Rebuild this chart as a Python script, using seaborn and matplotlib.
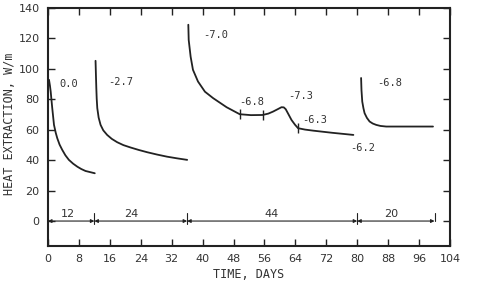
import matplotlib
matplotlib.use("Agg")
import matplotlib.pyplot as plt
import seaborn as sns
import pandas as pd

# ---- data ----
seg1_days = [0.26, 0.5, 0.7, 0.9, 1.1, 1.55, 2.0, 2.4, 3.0, 3.7, 4.5, 5.4, 6.5, 7.6, 8.6, 9.7, 12.1]
seg1_vals = [92.8, 89.0, 85.0, 79.5, 74.2, 63.2, 58.0, 54.4, 50.2, 46.7, 43.2, 40.2, 37.7, 35.7, 34.2, 32.9, 31.4]

seg2_days = [12.3, 12.4, 12.5, 12.6, 12.75, 13.1, 13.6, 14.3, 15.3, 16.5, 17.9, 19.5, 21.4, 23.5, 25.7, 28.2, 30.8, 33.4, 36.0]
seg2_vals = [105.3, 96.0, 87.4, 80.5, 74.2, 68.0, 63.2, 59.6, 56.6, 54.0, 51.8, 49.9, 48.3, 46.7, 45.2, 43.7, 42.3, 41.2, 40.2]

seg3_days = [36.3, 36.4, 36.9, 37.5, 38.8, 40.6, 42.7, 46.2, 49.6, 52.5, 55.5, 57.0,
             58.2, 59.5, 60.4, 61.0, 61.5, 62.2, 63.0, 63.9, 64.7, 66.5, 68.6, 73.5, 79.0]
seg3_vals = [129.0, 119.0, 108.0, 99.4, 91.7, 85.0, 80.8, 74.8, 70.2, 69.6, 69.7, 70.6,
             71.9, 73.6, 74.8, 74.7, 73.5, 70.2, 66.4, 63.3, 61.0, 60.1, 59.4, 58.0, 56.6]

seg4_days = [81.0, 81.1, 81.3, 81.6, 81.9, 82.5, 83.2, 84.0, 84.9, 86.0, 87.5, 99.6]
seg4_vals = [94.0, 86.0, 78.5, 74.2, 70.9, 67.8, 65.4, 64.1, 63.2, 62.5, 62.1, 62.1]

mark_days = [49.6, 55.5, 64.7]
mark_vals = [70.2, 69.7, 61.0]

temp_labels = ["0.0", "-2.7", "-7.0", "-6.8", "-7.3", "-6.3", "-6.2", "-6.8"]
temp_x = [5.3, 18.7, 43.4, 52.6, 65.5, 69.0, 81.3, 88.3]
temp_y = [90, 91.5, 122, 78.5, 82, 66.4, 48, 90.8]

boundaries = [0, 12, 36, 80, 100]
dur_labels = ["12", "24", "44", "20"]
dur_x = [5.2, 21.6, 57.9, 88.9]

x_ticks = list(range(0, 105, 8))
y_ticks = list(range(0, 141, 20))

# ---- plot ----
sns.set_style("ticks")
plt.rcParams["font.family"] = ["Liberation Sans Narrow", "DejaVu Sans"]

fig = plt.figure(figsize=(4.86, 2.82), dpi=100)
ax = fig.add_axes([48 / 486, 1 - 246 / 282, (450 - 48) / 486, (246 - 8) / 282])

for d, v in [(seg1_days, seg1_vals), (seg2_days, seg2_vals),
             (seg3_days, seg3_vals), (seg4_days, seg4_vals)]:
    df = pd.DataFrame({"day": d, "val": v})
    sns.lineplot(data=df, x="day", y="val", ax=ax, color="#222222",
                 linewidth=1.3, sort=False, estimator=None)

ax.plot(mark_days, mark_vals, linestyle="none", marker="|", ms=7,
        mew=1.0, color="#222222")

mono = "DejaVu Sans Mono"
for t, x, y in zip(temp_labels, temp_x, temp_y):
    ax.text(x, y, t, ha="center", va="center", fontsize=7.5,
            family=mono, color="#333333")

# duration dimension line
for a, b in zip(boundaries[:-1], boundaries[1:]):
    ax.annotate("", xy=(a, 0), xytext=(b, 0),
                arrowprops=dict(arrowstyle="<|-|>", lw=0.8, color="#222222",
                                mutation_scale=5, shrinkA=0, shrinkB=0))
for b in boundaries[1:-1]:
    ax.plot([b, b], [-2, 5], color="#222222", lw=0.8)
ax.plot([boundaries[-1], boundaries[-1]], [0, 5.5], color="#222222", lw=0.8)
for t, x in zip(dur_labels, dur_x):
    ax.text(x, 1.3, t, ha="center", va="bottom", fontsize=8, color="#333333")

ax.set_xlim(0, 104)
ax.set_ylim(-16.4, 140)
ax.set_xticks(x_ticks)
ax.set_yticks(y_ticks)
ax.set_xlabel("")
ax.set_ylabel("")
for s in ax.spines.values():
    s.set_visible(True)
    s.set_linewidth(1.5)
    s.set_color("#222222")
ax.tick_params(direction="in", length=5, width=1.0, color="#222222",
               top=True, right=True, labelsize=8, labelcolor="#333333",
               pad=6)

fig.text(10 / 486, 1 - 124 / 282, "HEAT EXTRACTION, W/m", rotation=90,
         ha="center", va="center", fontsize=8.5, family=mono, color="#333333")
fig.text(249 / 486, 1.5 / 282, "TIME, DAYS", ha="center", va="bottom",
         fontsize=8.5, family=mono, color="#333333")

fig.savefig("out.png", dpi=100)
